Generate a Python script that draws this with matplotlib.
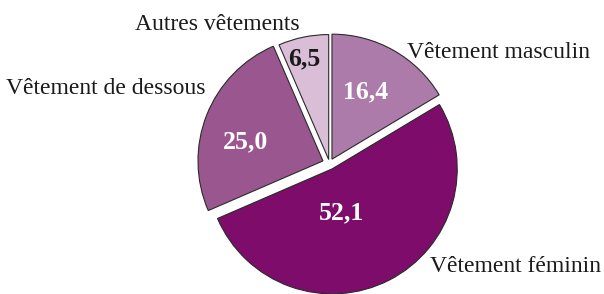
import numpy as np
import matplotlib
matplotlib.use("Agg")
import matplotlib.pyplot as plt

# données
categories = ["Vêtement masculin", "Vêtement féminin", "Vêtement de dessous", "Autres vêtements"]
valeurs = [16.4, 52.1, 25.0, 6.5]
etiquettes_val = ["16,4", "52,1", "25,0", "6,5"]
couleurs = ["#ad7ba9", "#7e0c6a", "#9a578f", "#dabdd6"]
couleurs_txt = ["white", "white", "white", "#1a1a1a"]
eclatement = [5, 6, 7, 4]   # en pixels

plt.rcParams['font.family'] = ['Liberation Serif', 'DejaVu Serif']

fig = plt.figure(figsize=(6.04, 2.94), dpi=100)
ax = fig.add_axes([0, 0, 1, 1])

r = 125
wedges, _ = ax.pie(valeurs, colors=couleurs, startangle=90, counterclock=False,
                   explode=eclatement, center=(329.5, 130.5), radius=r,
                   wedgeprops=dict(edgecolor='#2a2a2a', linewidth=0.8),
                   frame=True)
ax.set_xlim(0, 604)
ax.set_ylim(0, 294)
ax.set_aspect('equal')
ax.axis('off')

# valeurs dans les parts (distance relative, décalage d'angle)
dist_val = [0.6, 0.36, 0.64, 0.83]
dang_val = [3, -15, 8, 2]
for w, lab, col, d, da in zip(wedges, etiquettes_val, couleurs_txt, dist_val, dang_val):
    ang = np.deg2rad((w.theta1 + w.theta2) / 2 + da)
    cx, cy = w.center
    ax.text(cx + d * r * np.cos(ang), cy + d * r * np.sin(ang), lab,
            ha='center', va='center', fontsize=18.5, fontweight='bold', color=col)

# libellés
pos_lab = [(407, 242, 'left'), (430, 28, 'left'), (205, 206, 'right'), (217, 269, 'center')]
for cat, (x, y, ha) in zip(categories, pos_lab):
    ax.text(x, y, cat, ha=ha, va='center', fontsize=17, color='#1a1a1a')

fig.savefig("out.png", dpi=100)
